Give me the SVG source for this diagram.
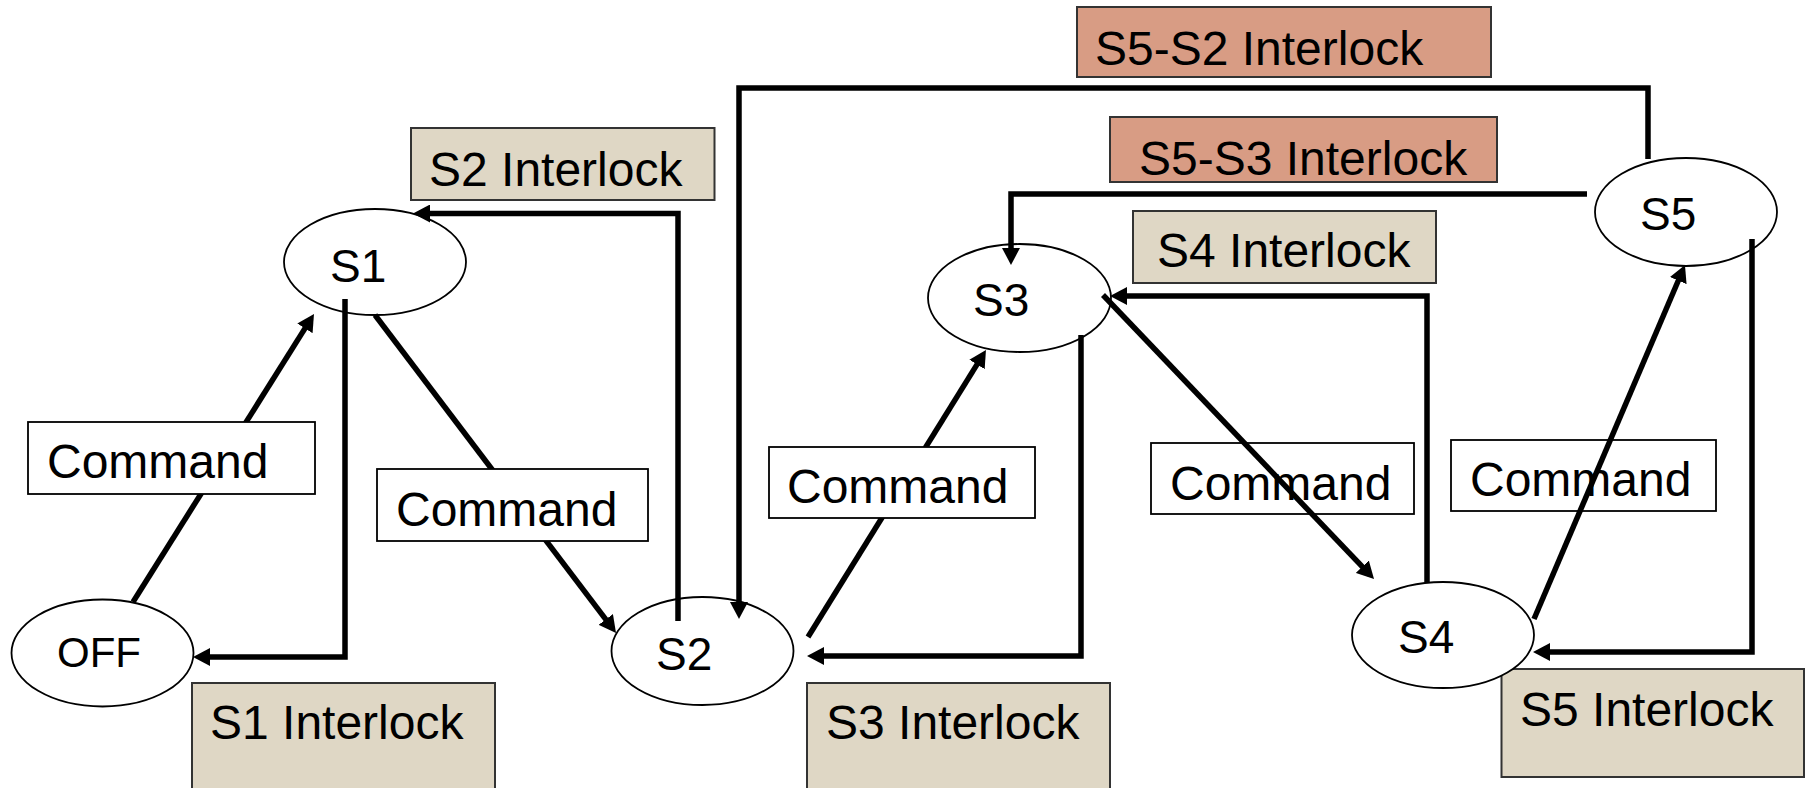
<svg xmlns="http://www.w3.org/2000/svg" width="1810" height="788" viewBox="0 0 1810 788">
<style>
  .node ellipse { fill: #ffffff; stroke: #000000; stroke-width: 1.8; }
  .node text { font-family: "Liberation Sans", Arial, sans-serif; font-size: 46px; fill: #000000; }
  .lbl text { font-family: "Liberation Sans", Arial, sans-serif; font-size: 48px; fill: #000000; }
  .cmd rect { fill: #ffffff; stroke: #000000; stroke-width: 1.8; }
  .tan rect { fill: #DFD7C5; stroke: #333333; stroke-width: 2; }
  .salmon rect { fill: #D89C84; stroke: #333333; stroke-width: 2; }
  .conn path { fill: none; stroke: #000000; stroke-width: 5.5; stroke-linejoin: miter; marker-end: url(#arr); }
</style>
<defs>
  <marker id="arr" markerUnits="userSpaceOnUse" markerWidth="17" markerHeight="18" refX="11" refY="9" orient="auto">
    <path d="M0,0 L17,9 L0,18 z" fill="#000000"/>
  </marker>
</defs>
<rect x="0" y="0" width="1810" height="788" fill="#ffffff"/>

<g id="lbl-s5-interlock" class="lbl tan">
  <rect x="1501.5" y="669" width="302.5" height="108"/>
  <text x="1520" y="726">S5 Interlock</text>
</g>

<g id="node-off" class="node">
  <ellipse cx="102.5" cy="653" rx="91" ry="53.5"/>
  <text x="57" y="667" style="font-size:42px">OFF</text>
</g>
<g id="node-s1" class="node">
  <ellipse cx="375" cy="262" rx="91" ry="53"/>
  <text x="330" y="282">S1</text>
</g>
<g id="node-s2" class="node">
  <ellipse cx="702.5" cy="651" rx="91" ry="54"/>
  <text x="656" y="670">S2</text>
</g>
<g id="node-s3" class="node">
  <ellipse cx="1019.5" cy="298" rx="91.5" ry="54"/>
  <text x="973" y="316">S3</text>
</g>
<g id="node-s4" class="node">
  <ellipse cx="1443" cy="635" rx="91" ry="53"/>
  <text x="1398" y="653">S4</text>
</g>
<g id="node-s5" class="node">
  <ellipse cx="1686" cy="212" rx="91" ry="54"/>
  <text x="1640" y="230">S5</text>
</g>

<g id="lbl-cmd4" class="lbl cmd">
  <rect x="1151" y="443" width="263" height="71"/>
  <text x="1170" y="500">Command</text>
</g>
<g id="lbl-cmd5" class="lbl cmd">
  <rect x="1451" y="440" width="265" height="71"/>
  <text x="1470" y="496">Command</text>
</g>

<g id="connectors" class="conn">
  <path d="M133,602 L310.8,319.1"/>
  <path d="M345,299 V657 H199"/>
  <path d="M375,315 L612.4,628.2"/>
  <path d="M678,621 V213.5 H419"/>
  <path d="M1648,159 V88 H739 V613"/>
  <path d="M808,637 L982.8,355.1"/>
  <path d="M1081,335 V656 H813"/>
  <path d="M1103,295 L1369.9,574.7"/>
  <path d="M1427,582 V296 H1116"/>
  <path d="M1587,194 H1011 V259"/>
  <path d="M1534,619 L1682.6,270.5"/>
  <path d="M1752,239 V652 H1539"/>
</g>

<g id="lbl-cmd1" class="lbl cmd">
  <rect x="28" y="422" width="287" height="72"/>
  <text x="47" y="478">Command</text>
</g>
<g id="lbl-cmd2" class="lbl cmd">
  <rect x="377" y="469" width="271" height="72"/>
  <text x="396" y="526">Command</text>
</g>
<g id="lbl-cmd3" class="lbl cmd">
  <rect x="769" y="447" width="266" height="71"/>
  <text x="787" y="503">Command</text>
</g>

<g id="lbl-s1-interlock" class="lbl tan">
  <rect x="192" y="683" width="303" height="110"/>
  <text x="210" y="739">S1 Interlock</text>
</g>
<g id="lbl-s2-interlock" class="lbl tan">
  <rect x="411" y="128" width="303.5" height="72"/>
  <text x="429" y="186">S2 Interlock</text>
</g>
<g id="lbl-s3-interlock" class="lbl tan">
  <rect x="807" y="683" width="303" height="110"/>
  <text x="826" y="739">S3 Interlock</text>
</g>
<g id="lbl-s4-interlock" class="lbl tan">
  <rect x="1133" y="211" width="303" height="72"/>
  <text x="1157" y="267">S4 Interlock</text>
</g>
<g id="lbl-s5s2-interlock" class="lbl salmon">
  <rect x="1077" y="7" width="414" height="70"/>
  <text x="1095" y="65">S5-S2 Interlock</text>
</g>
<g id="lbl-s5s3-interlock" class="lbl salmon">
  <rect x="1110" y="117" width="387" height="65"/>
  <text x="1139" y="175">S5-S3 Interlock</text>
</g>
</svg>
